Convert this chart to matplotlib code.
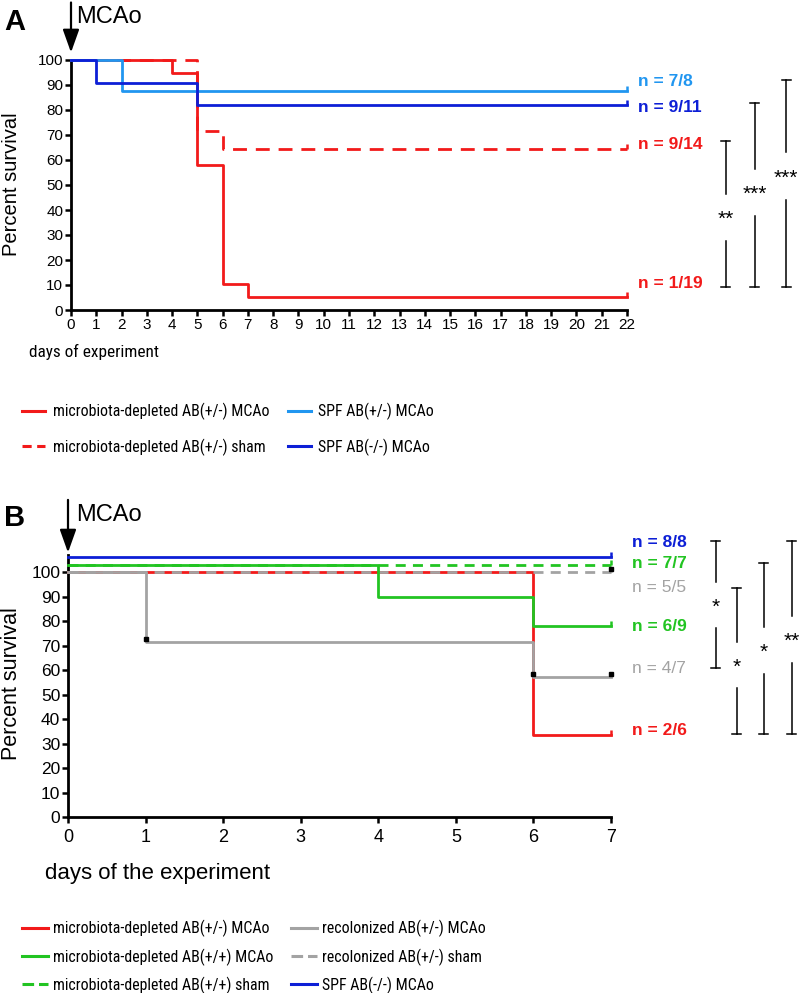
import matplotlib
matplotlib.use("Agg")
import matplotlib.pyplot as plt
from matplotlib.lines import Line2D
from matplotlib import font_manager

plt.rcParams['font.family'] = ['Liberation Sans', 'DejaVu Sans']

# legend / x label text is set in a narrow face; pick the closest installed one
# (rank, width relative to Arial Narrow)
NARROW_PREF = [('liberation', 1.0), ('arial', 1.0), ('noto sans', 1.09),
               ('roboto', 1.05), ('open sans', 1.12), ('dejavu', 1.24)]
narrow_file, narrow_w, best = None, 1.0, 99
for f in font_manager.fontManager.ttflist:
    nm = f.name.lower()
    if any(k in nm for k in ('mono', 'cjk', 'serif', 'symbol')):
        continue
    cond = 'narrow' in nm or 'condensed' in nm or f.stretch in ('condensed', 'semi-condensed')
    if not cond or f.style != 'normal' or f.weight not in (400, 'normal', 'regular'):
        continue
    for rank, (key, wf) in enumerate(NARROW_PREF):
        if key in nm and rank < best:
            narrow_file, narrow_w, best = f.fname, wf, rank


def narrow(size):
    if narrow_file:
        return font_manager.FontProperties(fname=narrow_file, size=size / narrow_w)
    return font_manager.FontProperties(family='Liberation Sans', size=size * 0.82)


W, H = 800, 993

RED = '#f21a1a'
LBLUE = '#2196f0'
DBLUE = '#0d1fd6'
GREEN = '#22c422'
GRAY = '#a3a3a3'

# ---- panel A data (percent survival, step curves) ----
a_xticks = list(range(0, 23))
a_red_t = [0, 4, 5, 6, 7, 22]
a_red_v = [100, 94.7, 57.9, 10.5, 5.3, 5.3]
a_sham_t = [0, 5, 6, 22]
a_sham_v = [100, 71.4, 64.3, 64.3]
a_spfhet_t = [0, 2, 22]
a_spfhet_v = [100, 87.5, 87.5]
a_spfko_t = [0, 1, 5, 22]
a_spfko_v = [100, 90.9, 81.8, 81.8]
a_n_labels = ['n = 7/8', 'n = 9/11', 'n = 9/14', 'n = 1/19']
a_n_y = [91.5, 80.8, 66, 10.8]
a_n_colors = [LBLUE, DBLUE, RED, RED]
a_stars = ['**', '***', '***']
a_br_low = [9.2, 9.2, 9.2]
a_br_high = [67.6, 82.8, 92]
a_legend = ['microbiota-depleted AB(+/-) MCAo', 'microbiota-depleted AB(+/-) sham',
            'SPF AB(+/-) MCAo', 'SPF AB(-/-) MCAo']

# ---- panel B data (lines offset above 100 as drawn in the figure) ----
b_xticks = list(range(0, 8))
b_red_t = [0, 6, 7]
b_red_v = [100, 33.3, 33.3]
b_green_t = [0, 4, 6, 7]
b_green_v = [103, 90, 78, 78]
b_greensham_t = [0, 7]
b_greensham_v = [103, 103]
b_recol_t = [0, 1, 6, 7]
b_recol_v = [100, 71.4, 57.1, 57.1]
b_recolsham_t = [0, 7]
b_recolsham_v = [100, 100]
b_spf_t = [0, 7]
b_spf_v = [106, 106]
b_censor_t = [1, 6, 7, 7]
b_censor_v = [72.6, 58.3, 101.2, 58.3]
b_n_labels = ['n = 8/8', 'n = 7/7', 'n = 5/5', 'n = 6/9', 'n = 4/7', 'n = 2/6']
b_n_y = [112.2, 103.7, 93.9, 77.6, 60.8, 35.5]
b_n_colors = [DBLUE, GREEN, GRAY, GREEN, GRAY, RED]
b_n_bold = [True, True, False, True, False, True]
b_stars = ['*', '*', '*', '**']
b_br_low = [60.8, 33.9, 33.9, 33.9]
b_br_high = [112.7, 93.5, 103.7, 112.7]
b_legend = ['microbiota-depleted AB(+/-) MCAo', 'microbiota-depleted AB(+/+) MCAo',
            'microbiota-depleted AB(+/+) sham', 'recolonized AB(+/-) MCAo',
            'recolonized AB(+/-) sham', 'SPF AB(-/-) MCAo']


def px_rect(left, top, right, bottom):
    return [left / W, 1 - bottom / H, (right - left) / W, (bottom - top) / H]


def style_axes(ax, xticks, ymax, xfs, yfs):
    for s in ['top', 'right']:
        ax.spines[s].set_visible(False)
    for s in ['left', 'bottom']:
        ax.spines[s].set_linewidth(2.0)
    ax.set_xticks(xticks)
    ax.set_yticks(range(0, 101, 10))
    ax.set_xlim(xticks[0], xticks[-1])
    ax.set_ylim(0, ymax)
    ax.tick_params(axis='both', direction='out', length=4.5, width=1.8)
    ax.tick_params(axis='x', pad=1.5, labelsize=xfs)
    ax.tick_params(axis='y', pad=1, labelsize=yfs)


def km(ax, t, v, color, ls='-', z=3):
    ax.step(t, v, where='post', color=color, lw=2.0, ls=ls, clip_on=False, zorder=z)
    # small end hook at the last time point
    ax.plot([t[-1]], [v[-1]], marker=[(0, 0), (0, 1)], ms=7, mew=1.8, color=color,
            clip_on=False, zorder=z)


def brackets(ax, xs, lows, highs, stars, ys, gap, cap):
    for x, lo, hi, st, y in zip(xs, lows, highs, stars, ys):
        ax.plot([x, x], [lo, y - gap], color='black', lw=1.1, clip_on=False)
        ax.plot([x, x], [y + gap, hi], color='black', lw=1.1, clip_on=False)
        ax.plot([x - cap, x + cap], [lo, lo], color='black', lw=1.1, clip_on=False)
        ax.plot([x - cap, x + cap], [hi, hi], color='black', lw=1.1, clip_on=False)
        ax.text(x, y, st, ha='center', va='center_baseline', fontsize=15, clip_on=False)


fig = plt.figure(figsize=(W / 100, H / 100), dpi=100)

# ================= panel A =================
ax = fig.add_axes(px_rect(71, 60, 627, 310))
style_axes(ax, a_xticks, 100, 11, 11)
km(ax, a_red_t, a_red_v, RED)
km(ax, a_sham_t, a_sham_v, RED, ls=(0, (5, 3.2)))
km(ax, a_spfhet_t, a_spfhet_v, LBLUE, z=4)
km(ax, a_spfko_t, a_spfko_v, DBLUE, z=5)

for s, y, c in zip(a_n_labels, a_n_y, a_n_colors):
    ax.text(22.45, y, s, color=c, fontsize=12.5, fontweight='bold', va='center', clip_on=False)

brackets(ax, [25.9, 27.05, 28.3], a_br_low, a_br_high, a_stars, [37, 47, 53.5], 9.5, 0.18)

ax.annotate('', xy=(0, 103.0), xytext=(0, 123),
            arrowprops=dict(arrowstyle='-|>,head_length=0.7,head_width=0.25', lw=1.6,
                            color='black', mutation_scale=20, shrinkA=0, shrinkB=0),
            annotation_clip=False)
ax.text(0.22, 117, 'MCAo', fontsize=17, va='center', ha='left', clip_on=False)

fig.text(15 / W, 1 - 22 / H, 'A', fontsize=21, fontweight='bold', ha='center', va='center')
fig.text(12 / W, 1 - 184 / H, 'Percent survival', rotation=90, fontsize=14.5,
         ha='center', va='center')
fig.text(29 / W, 1 - 352 / H, 'days of experiment', fontproperties=narrow(13),
         ha='left', va='center')

handles_a = [Line2D([], [], color=RED, lw=2.2),
             Line2D([], [], color=RED, lw=2.2, ls=(0, (3.0, 1.8))),
             Line2D([], [], color=LBLUE, lw=2.2),
             Line2D([], [], color=DBLUE, lw=2.2)]
leg_a = narrow(12)
fs_a = leg_a.get_size_in_points() * 100 / 72
fig.legend(handles_a, a_legend, loc='upper left', bbox_to_anchor=(22 / W, 1 - 403 / H),
           ncol=2, frameon=False, prop=leg_a,
           handlelength=23 / fs_a, handletextpad=8 / fs_a, labelspacing=18 / fs_a,
           columnspacing=18 / fs_a, borderpad=0, borderaxespad=0)

# ================= panel B =================
ax = fig.add_axes(px_rect(68, 555, 611, 817))
style_axes(ax, b_xticks, 107, 13, 12.5)
ax.tick_params(axis='x', pad=4)
dash_b = (0, (3.6, 2.6))
km(ax, b_red_t, b_red_v, RED)
km(ax, b_recolsham_t, b_recolsham_v, GRAY, ls=dash_b, z=4)
km(ax, b_recol_t, b_recol_v, GRAY, z=5)
km(ax, b_greensham_t, b_greensham_v, GREEN, ls=dash_b, z=4)
km(ax, b_green_t, b_green_v, GREEN, z=5)
km(ax, b_spf_t, b_spf_v, DBLUE, z=6)
ax.plot(b_censor_t, b_censor_v, ls='none', marker='s', ms=3, color='black',
        clip_on=False, zorder=7)

for s, y, c, b in zip(b_n_labels, b_n_y, b_n_colors, b_n_bold):
    ax.text(7.27, y, s, color=c, fontsize=12.5, fontweight='bold' if b else 'normal',
            va='center', clip_on=False)

brackets(ax, [8.35, 8.62, 8.97, 9.33], b_br_low, b_br_high, b_stars,
         [86.5, 62, 68, 72.5], 9.5, 0.06)

ax.annotate('', xy=(0, 108.0), xytext=(0, 129.5),
            arrowprops=dict(arrowstyle='-|>,head_length=0.7,head_width=0.25', lw=1.6,
                            color='black', mutation_scale=20, shrinkA=0, shrinkB=0),
            annotation_clip=False)
ax.text(0.1, 123.3, 'MCAo', fontsize=17, va='center', ha='left', clip_on=False)

fig.text(15 / W, 1 - 518 / H, 'B', fontsize=21, fontweight='bold', ha='center', va='center')
fig.text(12 / W, 1 - 684 / H, 'Percent survival', rotation=90, fontsize=15.5,
         ha='center', va='center')
fig.text(45 / W, 1 - 873 / H, 'days of the experiment', fontsize=16, ha='left', va='center')

handles_b = [Line2D([], [], color=RED, lw=2.2),
             Line2D([], [], color=GREEN, lw=2.2),
             Line2D([], [], color=GREEN, lw=2.2, ls=(0, (3.8, 1.6))),
             Line2D([], [], color=GRAY, lw=2.2),
             Line2D([], [], color=GRAY, lw=2.2, ls=(0, (3.8, 1.6))),
             Line2D([], [], color=DBLUE, lw=2.2)]
leg_b = narrow(12)
fs_b = leg_b.get_size_in_points() * 100 / 72
fig.legend(handles_b, b_legend, loc='upper left', bbox_to_anchor=(22 / W, 1 - 920 / H),
           ncol=2, frameon=False, prop=leg_b,
           handlelength=26 / fs_b, handletextpad=5 / fs_b, labelspacing=11 / fs_b,
           columnspacing=18 / fs_b, borderpad=0, borderaxespad=0)

fig.savefig('out.png', dpi=100)
